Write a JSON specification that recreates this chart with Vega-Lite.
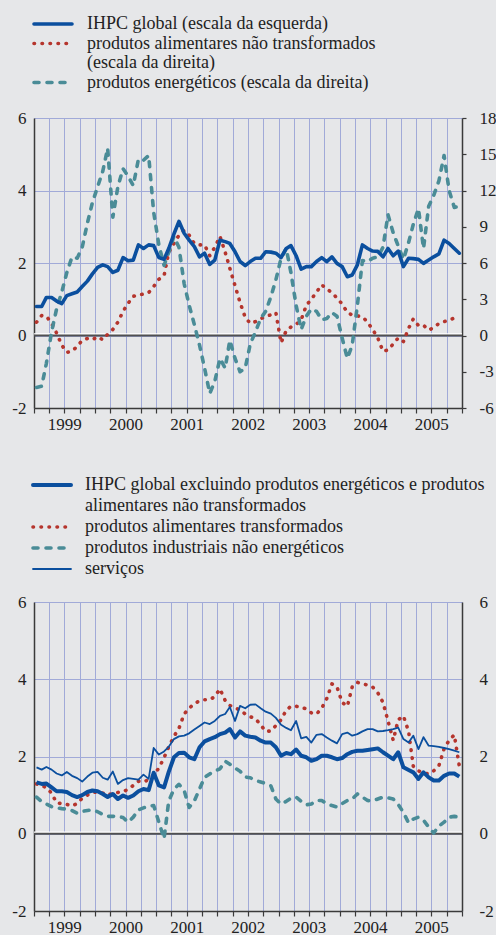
{
"$schema": "https://vega.github.io/schema/vega-lite/v6.json",
"background": "#e6e7e9",
"padding": {"left": 11, "top": 14, "right": 0, "bottom": 0},
"spacing": 44,
"resolve": {"scale": {"color": "independent", "strokeDash": "independent"}, "legend": {"color": "independent", "strokeDash": "independent"}},
"config": {
  "view": {"stroke": null},
  "font": "Liberation Serif",
  "axis": {"labelFont": "Liberation Serif", "labelFontSize": 17, "labelColor": "#222222", "domainColor": "#3a3a3a", "domainWidth": 1.5, "tickColor": "#3a3a3a", "tickWidth": 1.2, "gridColor": "#a1aad8", "gridWidth": 1, "gridOpacity": 1, "title": null},
  "legend": {"labelFont": "Liberation Serif", "labelFontSize": 18, "labelColor": "#222222", "labelLimit": 700, "title": null, "symbolType": "M-2.375,0H2.375", "symbolSize": 256, "symbolStrokeWidth": 3.6, "labelOffset": 24, "rowPadding": 0.5, "orient": "none", "direction": "vertical"}
},
"datasets": {
"top": [
{"t":"1999-01-16","s":"g","v":0.8},{"t":"1999-01-16","s":"a","v":1.1},{"t":"1999-01-16","s":"e","v":-4.3},
{"t":"1999-02-16","s":"g","v":0.8},{"t":"1999-02-16","s":"a","v":1.65},{"t":"1999-02-16","s":"e","v":-4.2},
{"t":"1999-03-16","s":"g","v":1.05},{"t":"1999-03-16","s":"a","v":1.6},{"t":"1999-03-16","s":"e","v":-2.3},
{"t":"1999-04-16","s":"g","v":1.05},{"t":"1999-04-16","s":"a","v":1.0},{"t":"1999-04-16","s":"e","v":0.3},
{"t":"1999-05-16","s":"g","v":0.95},{"t":"1999-05-16","s":"a","v":0.2},{"t":"1999-05-16","s":"e","v":2.2},
{"t":"1999-06-16","s":"g","v":0.88},{"t":"1999-06-16","s":"a","v":-0.8},{"t":"1999-06-16","s":"e","v":3.6},
{"t":"1999-07-16","s":"g","v":1.1},{"t":"1999-07-16","s":"a","v":-1.4},{"t":"1999-07-16","s":"e","v":5.2},
{"t":"1999-08-16","s":"g","v":1.15},{"t":"1999-08-16","s":"a","v":-1.3},{"t":"1999-08-16","s":"e","v":6.5},
{"t":"1999-09-16","s":"g","v":1.2},{"t":"1999-09-16","s":"a","v":-0.9},{"t":"1999-09-16","s":"e","v":6.4},
{"t":"1999-10-16","s":"g","v":1.35},{"t":"1999-10-16","s":"a","v":-0.4},{"t":"1999-10-16","s":"e","v":7.3},
{"t":"1999-11-16","s":"g","v":1.5},{"t":"1999-11-16","s":"a","v":-0.25},{"t":"1999-11-16","s":"e","v":9.3},
{"t":"1999-12-16","s":"g","v":1.7},{"t":"1999-12-16","s":"a","v":-0.35},{"t":"1999-12-16","s":"e","v":11.0},
{"t":"2000-01-16","s":"g","v":1.88},{"t":"2000-01-16","s":"a","v":-0.1},{"t":"2000-01-16","s":"e","v":12.3},
{"t":"2000-02-16","s":"g","v":1.95},{"t":"2000-02-16","s":"a","v":-0.35},{"t":"2000-02-16","s":"e","v":13.6},
{"t":"2000-03-16","s":"g","v":1.9},{"t":"2000-03-16","s":"a","v":0.1},{"t":"2000-03-16","s":"e","v":15.5},
{"t":"2000-04-16","s":"g","v":1.74},{"t":"2000-04-16","s":"a","v":0.5},{"t":"2000-04-16","s":"e","v":9.8},
{"t":"2000-05-16","s":"g","v":1.8},{"t":"2000-05-16","s":"a","v":1.1},{"t":"2000-05-16","s":"e","v":12.3},
{"t":"2000-06-16","s":"g","v":2.15},{"t":"2000-06-16","s":"a","v":2.0},{"t":"2000-06-16","s":"e","v":13.8},
{"t":"2000-07-16","s":"g","v":2.06},{"t":"2000-07-16","s":"a","v":2.66},{"t":"2000-07-16","s":"e","v":13.2},
{"t":"2000-08-16","s":"g","v":2.08},{"t":"2000-08-16","s":"a","v":3.25},{"t":"2000-08-16","s":"e","v":12.4},
{"t":"2000-09-16","s":"g","v":2.5},{"t":"2000-09-16","s":"a","v":3.32},{"t":"2000-09-16","s":"e","v":14.6},
{"t":"2000-10-16","s":"g","v":2.4},{"t":"2000-10-16","s":"a","v":3.45},{"t":"2000-10-16","s":"e","v":14.5},
{"t":"2000-11-16","s":"g","v":2.5},{"t":"2000-11-16","s":"a","v":3.55},{"t":"2000-11-16","s":"e","v":14.9},
{"t":"2000-12-16","s":"g","v":2.48},{"t":"2000-12-16","s":"a","v":4.05},{"t":"2000-12-16","s":"e","v":10.2},
{"t":"2001-01-16","s":"g","v":2.15},{"t":"2001-01-16","s":"a","v":4.65},{"t":"2001-01-16","s":"e","v":7.5},
{"t":"2001-02-16","s":"g","v":2.1},{"t":"2001-02-16","s":"a","v":4.95},{"t":"2001-02-16","s":"e","v":5.8},
{"t":"2001-03-16","s":"g","v":2.4},{"t":"2001-03-16","s":"a","v":6.9},{"t":"2001-03-16","s":"e","v":6.9},
{"t":"2001-04-16","s":"g","v":2.8},{"t":"2001-04-16","s":"a","v":7.6},{"t":"2001-04-16","s":"e","v":8.2},
{"t":"2001-05-16","s":"g","v":3.15},{"t":"2001-05-16","s":"a","v":8.3},{"t":"2001-05-16","s":"e","v":7.3},
{"t":"2001-06-16","s":"g","v":2.82},{"t":"2001-06-16","s":"a","v":8.7},{"t":"2001-06-16","s":"e","v":4.3},
{"t":"2001-07-16","s":"g","v":2.63},{"t":"2001-07-16","s":"a","v":8.3},{"t":"2001-07-16","s":"e","v":2.5},
{"t":"2001-08-16","s":"g","v":2.45},{"t":"2001-08-16","s":"a","v":7.6},{"t":"2001-08-16","s":"e","v":0.9},
{"t":"2001-09-16","s":"g","v":2.17},{"t":"2001-09-16","s":"a","v":7.5},{"t":"2001-09-16","s":"e","v":-0.8},
{"t":"2001-10-16","s":"g","v":2.27},{"t":"2001-10-16","s":"a","v":7.5},{"t":"2001-10-16","s":"e","v":-2.7},
{"t":"2001-11-16","s":"g","v":1.96},{"t":"2001-11-16","s":"a","v":6.6},{"t":"2001-11-16","s":"e","v":-4.8},
{"t":"2001-12-16","s":"g","v":2.08},{"t":"2001-12-16","s":"a","v":7.3},{"t":"2001-12-16","s":"e","v":-3.8},
{"t":"2002-01-16","s":"g","v":2.63},{"t":"2002-01-16","s":"a","v":8.2},{"t":"2002-01-16","s":"e","v":-1.9},
{"t":"2002-02-16","s":"g","v":2.59},{"t":"2002-02-16","s":"a","v":6.9},{"t":"2002-02-16","s":"e","v":-2.7},
{"t":"2002-03-16","s":"g","v":2.54},{"t":"2002-03-16","s":"a","v":5.56},{"t":"2002-03-16","s":"e","v":-0.4},
{"t":"2002-04-16","s":"g","v":2.31},{"t":"2002-04-16","s":"a","v":4.12},{"t":"2002-04-16","s":"e","v":-1.9},
{"t":"2002-05-16","s":"g","v":2.04},{"t":"2002-05-16","s":"a","v":2.74},{"t":"2002-05-16","s":"e","v":-3.0},
{"t":"2002-06-16","s":"g","v":1.93},{"t":"2002-06-16","s":"a","v":1.5},{"t":"2002-06-16","s":"e","v":-2.7},
{"t":"2002-07-16","s":"g","v":2.04},{"t":"2002-07-16","s":"a","v":1.0},{"t":"2002-07-16","s":"e","v":-0.7},
{"t":"2002-08-16","s":"g","v":2.13},{"t":"2002-08-16","s":"a","v":1.15},{"t":"2002-08-16","s":"e","v":0.3},
{"t":"2002-09-16","s":"g","v":2.13},{"t":"2002-09-16","s":"a","v":1.4},{"t":"2002-09-16","s":"e","v":1.4},
{"t":"2002-10-16","s":"g","v":2.31},{"t":"2002-10-16","s":"a","v":1.55},{"t":"2002-10-16","s":"e","v":2.0},
{"t":"2002-11-16","s":"g","v":2.3},{"t":"2002-11-16","s":"a","v":1.72},{"t":"2002-11-16","s":"e","v":3.2},
{"t":"2002-12-16","s":"g","v":2.27},{"t":"2002-12-16","s":"a","v":1.9},{"t":"2002-12-16","s":"e","v":4.6},
{"t":"2003-01-16","s":"g","v":2.15},{"t":"2003-01-16","s":"a","v":-0.6},{"t":"2003-01-16","s":"e","v":6.4},
{"t":"2003-02-16","s":"g","v":2.4},{"t":"2003-02-16","s":"a","v":0.4},{"t":"2003-02-16","s":"e","v":7.2},
{"t":"2003-03-16","s":"g","v":2.48},{"t":"2003-03-16","s":"a","v":0.7},{"t":"2003-03-16","s":"e","v":5.2},
{"t":"2003-04-16","s":"g","v":2.2},{"t":"2003-04-16","s":"a","v":0.92},{"t":"2003-04-16","s":"e","v":2.5},
{"t":"2003-05-16","s":"g","v":1.83},{"t":"2003-05-16","s":"a","v":1.3},{"t":"2003-05-16","s":"e","v":0.5},
{"t":"2003-06-16","s":"g","v":1.9},{"t":"2003-06-16","s":"a","v":2.5},{"t":"2003-06-16","s":"e","v":1.6},
{"t":"2003-07-16","s":"g","v":1.9},{"t":"2003-07-16","s":"a","v":3.0},{"t":"2003-07-16","s":"e","v":2.2},
{"t":"2003-08-16","s":"g","v":2.04},{"t":"2003-08-16","s":"a","v":3.6},{"t":"2003-08-16","s":"e","v":2.0},
{"t":"2003-09-16","s":"g","v":2.15},{"t":"2003-09-16","s":"a","v":4.2},{"t":"2003-09-16","s":"e","v":1.3},
{"t":"2003-10-16","s":"g","v":2.04},{"t":"2003-10-16","s":"a","v":3.85},{"t":"2003-10-16","s":"e","v":1.4},
{"t":"2003-11-16","s":"g","v":2.17},{"t":"2003-11-16","s":"a","v":3.55},{"t":"2003-11-16","s":"e","v":1.9},
{"t":"2003-12-16","s":"g","v":1.99},{"t":"2003-12-16","s":"a","v":3.1},{"t":"2003-12-16","s":"e","v":1.6},
{"t":"2004-01-16","s":"g","v":1.9},{"t":"2004-01-16","s":"a","v":2.6},{"t":"2004-01-16","s":"e","v":-0.2},
{"t":"2004-02-16","s":"g","v":1.62},{"t":"2004-02-16","s":"a","v":1.9},{"t":"2004-02-16","s":"e","v":-1.9},
{"t":"2004-03-16","s":"g","v":1.67},{"t":"2004-03-16","s":"a","v":1.7},{"t":"2004-03-16","s":"e","v":-0.8},
{"t":"2004-04-16","s":"g","v":1.95},{"t":"2004-04-16","s":"a","v":1.62},{"t":"2004-04-16","s":"e","v":2.5},
{"t":"2004-05-16","s":"g","v":2.5},{"t":"2004-05-16","s":"a","v":1.56},{"t":"2004-05-16","s":"e","v":6.2},
{"t":"2004-06-16","s":"g","v":2.4},{"t":"2004-06-16","s":"a","v":1.1},{"t":"2004-06-16","s":"e","v":6.1},
{"t":"2004-07-16","s":"g","v":2.33},{"t":"2004-07-16","s":"a","v":0.5},{"t":"2004-07-16","s":"e","v":6.4},
{"t":"2004-08-16","s":"g","v":2.32},{"t":"2004-08-16","s":"a","v":-0.2},{"t":"2004-08-16","s":"e","v":6.5},
{"t":"2004-09-16","s":"g","v":2.17},{"t":"2004-09-16","s":"a","v":-1.3},{"t":"2004-09-16","s":"e","v":7.3},
{"t":"2004-10-16","s":"g","v":2.4},{"t":"2004-10-16","s":"a","v":-1.2},{"t":"2004-10-16","s":"e","v":10.0},
{"t":"2004-11-16","s":"g","v":2.2},{"t":"2004-11-16","s":"a","v":-0.7},{"t":"2004-11-16","s":"e","v":8.5},
{"t":"2004-12-16","s":"g","v":2.33},{"t":"2004-12-16","s":"a","v":-0.2},{"t":"2004-12-16","s":"e","v":7.4},
{"t":"2005-01-16","s":"g","v":1.9},{"t":"2005-01-16","s":"a","v":-0.5},{"t":"2005-01-16","s":"e","v":6.3},
{"t":"2005-02-16","s":"g","v":2.13},{"t":"2005-02-16","s":"a","v":0.6},{"t":"2005-02-16","s":"e","v":7.7},
{"t":"2005-03-16","s":"g","v":2.12},{"t":"2005-03-16","s":"a","v":1.37},{"t":"2005-03-16","s":"e","v":9.2},
{"t":"2005-04-16","s":"g","v":2.1},{"t":"2005-04-16","s":"a","v":0.81},{"t":"2005-04-16","s":"e","v":10.5},
{"t":"2005-05-16","s":"g","v":1.99},{"t":"2005-05-16","s":"a","v":0.85},{"t":"2005-05-16","s":"e","v":7.2},
{"t":"2005-06-16","s":"g","v":2.08},{"t":"2005-06-16","s":"a","v":0.45},{"t":"2005-06-16","s":"e","v":10.7},
{"t":"2005-07-16","s":"g","v":2.17},{"t":"2005-07-16","s":"a","v":0.65},{"t":"2005-07-16","s":"e","v":11.6},
{"t":"2005-08-16","s":"g","v":2.25},{"t":"2005-08-16","s":"a","v":1.0},{"t":"2005-08-16","s":"e","v":12.8},
{"t":"2005-09-16","s":"g","v":2.63},{"t":"2005-09-16","s":"a","v":1.15},{"t":"2005-09-16","s":"e","v":14.9},
{"t":"2005-10-16","s":"g","v":2.54},{"t":"2005-10-16","s":"a","v":1.25},{"t":"2005-10-16","s":"e","v":12.0},
{"t":"2005-11-16","s":"g","v":2.4},{"t":"2005-11-16","s":"a","v":1.45},{"t":"2005-11-16","s":"e","v":10.6},
{"t":"2005-12-16","s":"g","v":2.27},{"t":"2005-12-16","s":"a","v":1.55},{"t":"2005-12-16","s":"e","v":10.7}
],
"bot": [
{"t":"1999-01-16","s":"c","v":1.33},{"t":"1999-01-16","s":"p","v":1.29},{"t":"1999-01-16","s":"i","v":0.95},{"t":"1999-01-16","s":"s","v":1.72},
{"t":"1999-02-16","s":"c","v":1.29},{"t":"1999-02-16","s":"p","v":1.24},{"t":"1999-02-16","s":"i","v":0.83},{"t":"1999-02-16","s":"s","v":1.66},
{"t":"1999-03-16","s":"c","v":1.30},{"t":"1999-03-16","s":"p","v":1.20},{"t":"1999-03-16","s":"i","v":0.77},{"t":"1999-03-16","s":"s","v":1.73},
{"t":"1999-04-16","s":"c","v":1.20},{"t":"1999-04-16","s":"p","v":1.05},{"t":"1999-04-16","s":"i","v":0.70},{"t":"1999-04-16","s":"s","v":1.66},
{"t":"1999-05-16","s":"c","v":1.10},{"t":"1999-05-16","s":"p","v":0.80},{"t":"1999-05-16","s":"i","v":0.67},{"t":"1999-05-16","s":"s","v":1.56},
{"t":"1999-06-16","s":"c","v":1.10},{"t":"1999-06-16","s":"p","v":0.78},{"t":"1999-06-16","s":"i","v":0.65},{"t":"1999-06-16","s":"s","v":1.51},
{"t":"1999-07-16","s":"c","v":1.08},{"t":"1999-07-16","s":"p","v":0.76},{"t":"1999-07-16","s":"i","v":0.64},{"t":"1999-07-16","s":"s","v":1.60},
{"t":"1999-08-16","s":"c","v":1.00},{"t":"1999-08-16","s":"p","v":0.72},{"t":"1999-08-16","s":"i","v":0.60},{"t":"1999-08-16","s":"s","v":1.50},
{"t":"1999-09-16","s":"c","v":0.95},{"t":"1999-09-16","s":"p","v":0.78},{"t":"1999-09-16","s":"i","v":0.53},{"t":"1999-09-16","s":"s","v":1.44},
{"t":"1999-10-16","s":"c","v":1.00},{"t":"1999-10-16","s":"p","v":0.92},{"t":"1999-10-16","s":"i","v":0.58},{"t":"1999-10-16","s":"s","v":1.35},
{"t":"1999-11-16","s":"c","v":1.08},{"t":"1999-11-16","s":"p","v":1.00},{"t":"1999-11-16","s":"i","v":0.60},{"t":"1999-11-16","s":"s","v":1.48},
{"t":"1999-12-16","s":"c","v":1.12},{"t":"1999-12-16","s":"p","v":1.06},{"t":"1999-12-16","s":"i","v":0.62},{"t":"1999-12-16","s":"s","v":1.58},
{"t":"2000-01-16","s":"c","v":1.10},{"t":"2000-01-16","s":"p","v":1.09},{"t":"2000-01-16","s":"i","v":0.57},{"t":"2000-01-16","s":"s","v":1.60},
{"t":"2000-02-16","s":"c","v":1.03},{"t":"2000-02-16","s":"p","v":1.05},{"t":"2000-02-16","s":"i","v":0.50},{"t":"2000-02-16","s":"s","v":1.45},
{"t":"2000-03-16","s":"c","v":0.95},{"t":"2000-03-16","s":"p","v":1.00},{"t":"2000-03-16","s":"i","v":0.45},{"t":"2000-03-16","s":"s","v":1.40},
{"t":"2000-04-16","s":"c","v":1.03},{"t":"2000-04-16","s":"p","v":1.05},{"t":"2000-04-16","s":"i","v":0.45},{"t":"2000-04-16","s":"s","v":1.61},
{"t":"2000-05-16","s":"c","v":0.90},{"t":"2000-05-16","s":"p","v":1.07},{"t":"2000-05-16","s":"i","v":0.45},{"t":"2000-05-16","s":"s","v":1.29},
{"t":"2000-06-16","s":"c","v":0.99},{"t":"2000-06-16","s":"p","v":1.09},{"t":"2000-06-16","s":"i","v":0.42},{"t":"2000-06-16","s":"s","v":1.39},
{"t":"2000-07-16","s":"c","v":0.93},{"t":"2000-07-16","s":"p","v":1.15},{"t":"2000-07-16","s":"i","v":0.30},{"t":"2000-07-16","s":"s","v":1.44},
{"t":"2000-08-16","s":"c","v":0.99},{"t":"2000-08-16","s":"p","v":1.25},{"t":"2000-08-16","s":"i","v":0.43},{"t":"2000-08-16","s":"s","v":1.42},
{"t":"2000-09-16","s":"c","v":1.10},{"t":"2000-09-16","s":"p","v":1.36},{"t":"2000-09-16","s":"i","v":0.62},{"t":"2000-09-16","s":"s","v":1.40},
{"t":"2000-10-16","s":"c","v":1.16},{"t":"2000-10-16","s":"p","v":1.34},{"t":"2000-10-16","s":"i","v":0.67},{"t":"2000-10-16","s":"s","v":1.53},
{"t":"2000-11-16","s":"c","v":1.13},{"t":"2000-11-16","s":"p","v":1.40},{"t":"2000-11-16","s":"i","v":0.71},{"t":"2000-11-16","s":"s","v":1.42},
{"t":"2000-12-16","s":"c","v":1.58},{"t":"2000-12-16","s":"p","v":1.52},{"t":"2000-12-16","s":"i","v":0.73},{"t":"2000-12-16","s":"s","v":2.22},
{"t":"2001-01-16","s":"c","v":1.25},{"t":"2001-01-16","s":"p","v":1.70},{"t":"2001-01-16","s":"i","v":0.30},{"t":"2001-01-16","s":"s","v":2.05},
{"t":"2001-02-16","s":"c","v":1.20},{"t":"2001-02-16","s":"p","v":1.97},{"t":"2001-02-16","s":"i","v":-0.13},{"t":"2001-02-16","s":"s","v":2.13},
{"t":"2001-03-16","s":"c","v":1.60},{"t":"2001-03-16","s":"p","v":2.25},{"t":"2001-03-16","s":"i","v":0.85},{"t":"2001-03-16","s":"s","v":2.25},
{"t":"2001-04-16","s":"c","v":1.98},{"t":"2001-04-16","s":"p","v":2.52},{"t":"2001-04-16","s":"i","v":1.15},{"t":"2001-04-16","s":"s","v":2.45},
{"t":"2001-05-16","s":"c","v":2.09},{"t":"2001-05-16","s":"p","v":2.73},{"t":"2001-05-16","s":"i","v":1.28},{"t":"2001-05-16","s":"s","v":2.52},
{"t":"2001-06-16","s":"c","v":2.10},{"t":"2001-06-16","s":"p","v":3.10},{"t":"2001-06-16","s":"i","v":1.12},{"t":"2001-06-16","s":"s","v":2.54},
{"t":"2001-07-16","s":"c","v":1.98},{"t":"2001-07-16","s":"p","v":3.25},{"t":"2001-07-16","s":"i","v":0.68},{"t":"2001-07-16","s":"s","v":2.60},
{"t":"2001-08-16","s":"c","v":1.93},{"t":"2001-08-16","s":"p","v":3.37},{"t":"2001-08-16","s":"i","v":0.85},{"t":"2001-08-16","s":"s","v":2.70},
{"t":"2001-09-16","s":"c","v":2.24},{"t":"2001-09-16","s":"p","v":3.44},{"t":"2001-09-16","s":"i","v":1.16},{"t":"2001-09-16","s":"s","v":2.79},
{"t":"2001-10-16","s":"c","v":2.39},{"t":"2001-10-16","s":"p","v":3.47},{"t":"2001-10-16","s":"i","v":1.46},{"t":"2001-10-16","s":"s","v":2.88},
{"t":"2001-11-16","s":"c","v":2.45},{"t":"2001-11-16","s":"p","v":3.47},{"t":"2001-11-16","s":"i","v":1.55},{"t":"2001-11-16","s":"s","v":2.84},
{"t":"2001-12-16","s":"c","v":2.50},{"t":"2001-12-16","s":"p","v":3.55},{"t":"2001-12-16","s":"i","v":1.62},{"t":"2001-12-16","s":"s","v":2.92},
{"t":"2002-01-16","s":"c","v":2.58},{"t":"2002-01-16","s":"p","v":3.75},{"t":"2002-01-16","s":"i","v":1.68},{"t":"2002-01-16","s":"s","v":3.05},
{"t":"2002-02-16","s":"c","v":2.62},{"t":"2002-02-16","s":"p","v":3.45},{"t":"2002-02-16","s":"i","v":1.88},{"t":"2002-02-16","s":"s","v":3.10},
{"t":"2002-03-16","s":"c","v":2.71},{"t":"2002-03-16","s":"p","v":3.32},{"t":"2002-03-16","s":"i","v":1.80},{"t":"2002-03-16","s":"s","v":3.28},
{"t":"2002-04-16","s":"c","v":2.49},{"t":"2002-04-16","s":"p","v":3.26},{"t":"2002-04-16","s":"i","v":1.70},{"t":"2002-04-16","s":"s","v":2.92},
{"t":"2002-05-16","s":"c","v":2.65},{"t":"2002-05-16","s":"p","v":3.20},{"t":"2002-05-16","s":"i","v":1.62},{"t":"2002-05-16","s":"s","v":3.31},
{"t":"2002-06-16","s":"c","v":2.54},{"t":"2002-06-16","s":"p","v":3.10},{"t":"2002-06-16","s":"i","v":1.47},{"t":"2002-06-16","s":"s","v":3.25},
{"t":"2002-07-16","s":"c","v":2.51},{"t":"2002-07-16","s":"p","v":3.03},{"t":"2002-07-16","s":"i","v":1.45},{"t":"2002-07-16","s":"s","v":3.34},
{"t":"2002-08-16","s":"c","v":2.49},{"t":"2002-08-16","s":"p","v":2.98},{"t":"2002-08-16","s":"i","v":1.38},{"t":"2002-08-16","s":"s","v":3.35},
{"t":"2002-09-16","s":"c","v":2.41},{"t":"2002-09-16","s":"p","v":2.82},{"t":"2002-09-16","s":"i","v":1.34},{"t":"2002-09-16","s":"s","v":3.25},
{"t":"2002-10-16","s":"c","v":2.36},{"t":"2002-10-16","s":"p","v":2.65},{"t":"2002-10-16","s":"i","v":1.30},{"t":"2002-10-16","s":"s","v":3.16},
{"t":"2002-11-16","s":"c","v":2.36},{"t":"2002-11-16","s":"p","v":2.66},{"t":"2002-11-16","s":"i","v":1.24},{"t":"2002-11-16","s":"s","v":3.11},
{"t":"2002-12-16","s":"c","v":2.24},{"t":"2002-12-16","s":"p","v":2.80},{"t":"2002-12-16","s":"i","v":0.90},{"t":"2002-12-16","s":"s","v":3.00},
{"t":"2003-01-16","s":"c","v":2.02},{"t":"2003-01-16","s":"p","v":2.95},{"t":"2003-01-16","s":"i","v":0.77},{"t":"2003-01-16","s":"s","v":2.82},
{"t":"2003-02-16","s":"c","v":2.09},{"t":"2003-02-16","s":"p","v":3.20},{"t":"2003-02-16","s":"i","v":0.84},{"t":"2003-02-16","s":"s","v":2.74},
{"t":"2003-03-16","s":"c","v":2.06},{"t":"2003-03-16","s":"p","v":3.30},{"t":"2003-03-16","s":"i","v":0.92},{"t":"2003-03-16","s":"s","v":2.68},
{"t":"2003-04-16","s":"c","v":2.18},{"t":"2003-04-16","s":"p","v":3.30},{"t":"2003-04-16","s":"i","v":0.95},{"t":"2003-04-16","s":"s","v":2.92},
{"t":"2003-05-16","s":"c","v":2.02},{"t":"2003-05-16","s":"p","v":3.28},{"t":"2003-05-16","s":"i","v":0.84},{"t":"2003-05-16","s":"s","v":2.47},
{"t":"2003-06-16","s":"c","v":1.98},{"t":"2003-06-16","s":"p","v":3.23},{"t":"2003-06-16","s":"i","v":0.75},{"t":"2003-06-16","s":"s","v":2.51},
{"t":"2003-07-16","s":"c","v":1.89},{"t":"2003-07-16","s":"p","v":3.13},{"t":"2003-07-16","s":"i","v":0.77},{"t":"2003-07-16","s":"s","v":2.36},
{"t":"2003-08-16","s":"c","v":1.93},{"t":"2003-08-16","s":"p","v":3.10},{"t":"2003-08-16","s":"i","v":0.86},{"t":"2003-08-16","s":"s","v":2.56},
{"t":"2003-09-16","s":"c","v":2.02},{"t":"2003-09-16","s":"p","v":3.25},{"t":"2003-09-16","s":"i","v":0.86},{"t":"2003-09-16","s":"s","v":2.58},
{"t":"2003-10-16","s":"c","v":2.02},{"t":"2003-10-16","s":"p","v":3.50},{"t":"2003-10-16","s":"i","v":0.78},{"t":"2003-10-16","s":"s","v":2.49},
{"t":"2003-11-16","s":"c","v":1.98},{"t":"2003-11-16","s":"p","v":3.88},{"t":"2003-11-16","s":"i","v":0.73},{"t":"2003-11-16","s":"s","v":2.41},
{"t":"2003-12-16","s":"c","v":1.93},{"t":"2003-12-16","s":"p","v":3.80},{"t":"2003-12-16","s":"i","v":0.69},{"t":"2003-12-16","s":"s","v":2.34},
{"t":"2004-01-16","s":"c","v":1.96},{"t":"2004-01-16","s":"p","v":3.40},{"t":"2004-01-16","s":"i","v":0.78},{"t":"2004-01-16","s":"s","v":2.58},
{"t":"2004-02-16","s":"c","v":2.06},{"t":"2004-02-16","s":"p","v":3.30},{"t":"2004-02-16","s":"i","v":0.86},{"t":"2004-02-16","s":"s","v":2.62},
{"t":"2004-03-16","s":"c","v":2.12},{"t":"2004-03-16","s":"p","v":3.80},{"t":"2004-03-16","s":"i","v":0.90},{"t":"2004-03-16","s":"s","v":2.54},
{"t":"2004-04-16","s":"c","v":2.15},{"t":"2004-04-16","s":"p","v":3.92},{"t":"2004-04-16","s":"i","v":1.03},{"t":"2004-04-16","s":"s","v":2.58},
{"t":"2004-05-16","s":"c","v":2.15},{"t":"2004-05-16","s":"p","v":3.88},{"t":"2004-05-16","s":"i","v":0.95},{"t":"2004-05-16","s":"s","v":2.65},
{"t":"2004-06-16","s":"c","v":2.17},{"t":"2004-06-16","s":"p","v":3.85},{"t":"2004-06-16","s":"i","v":0.86},{"t":"2004-06-16","s":"s","v":2.71},
{"t":"2004-07-16","s":"c","v":2.19},{"t":"2004-07-16","s":"p","v":3.80},{"t":"2004-07-16","s":"i","v":0.85},{"t":"2004-07-16","s":"s","v":2.71},
{"t":"2004-08-16","s":"c","v":2.21},{"t":"2004-08-16","s":"p","v":3.65},{"t":"2004-08-16","s":"i","v":0.90},{"t":"2004-08-16","s":"s","v":2.65},
{"t":"2004-09-16","s":"c","v":2.11},{"t":"2004-09-16","s":"p","v":3.40},{"t":"2004-09-16","s":"i","v":0.95},{"t":"2004-09-16","s":"s","v":2.66},
{"t":"2004-10-16","s":"c","v":2.02},{"t":"2004-10-16","s":"p","v":2.92},{"t":"2004-10-16","s":"i","v":0.93},{"t":"2004-10-16","s":"s","v":2.68},
{"t":"2004-11-16","s":"c","v":1.93},{"t":"2004-11-16","s":"p","v":2.42},{"t":"2004-11-16","s":"i","v":0.90},{"t":"2004-11-16","s":"s","v":2.71},
{"t":"2004-12-16","s":"c","v":2.11},{"t":"2004-12-16","s":"p","v":2.95},{"t":"2004-12-16","s":"i","v":0.76},{"t":"2004-12-16","s":"s","v":2.75},
{"t":"2005-01-16","s":"c","v":1.72},{"t":"2005-01-16","s":"p","v":3.05},{"t":"2005-01-16","s":"i","v":0.55},{"t":"2005-01-16","s":"s","v":2.45},
{"t":"2005-02-16","s":"c","v":1.65},{"t":"2005-02-16","s":"p","v":2.65},{"t":"2005-02-16","s":"i","v":0.28},{"t":"2005-02-16","s":"s","v":2.36},
{"t":"2005-03-16","s":"c","v":1.59},{"t":"2005-03-16","s":"p","v":1.75},{"t":"2005-03-16","s":"i","v":0.38},{"t":"2005-03-16","s":"s","v":2.54},
{"t":"2005-04-16","s":"c","v":1.42},{"t":"2005-04-16","s":"p","v":1.63},{"t":"2005-04-16","s":"i","v":0.43},{"t":"2005-04-16","s":"s","v":2.19},
{"t":"2005-05-16","s":"c","v":1.59},{"t":"2005-05-16","s":"p","v":1.57},{"t":"2005-05-16","s":"i","v":0.35},{"t":"2005-05-16","s":"s","v":2.50},
{"t":"2005-06-16","s":"c","v":1.46},{"t":"2005-06-16","s":"p","v":1.55},{"t":"2005-06-16","s":"i","v":0.17},{"t":"2005-06-16","s":"s","v":2.28},
{"t":"2005-07-16","s":"c","v":1.38},{"t":"2005-07-16","s":"p","v":1.63},{"t":"2005-07-16","s":"i","v":0.02},{"t":"2005-07-16","s":"s","v":2.27},
{"t":"2005-08-16","s":"c","v":1.38},{"t":"2005-08-16","s":"p","v":1.76},{"t":"2005-08-16","s":"i","v":0.20},{"t":"2005-08-16","s":"s","v":2.25},
{"t":"2005-09-16","s":"c","v":1.50},{"t":"2005-09-16","s":"p","v":2.20},{"t":"2005-09-16","s":"i","v":0.30},{"t":"2005-09-16","s":"s","v":2.22},
{"t":"2005-10-16","s":"c","v":1.56},{"t":"2005-10-16","s":"p","v":2.42},{"t":"2005-10-16","s":"i","v":0.43},{"t":"2005-10-16","s":"s","v":2.19},
{"t":"2005-11-16","s":"c","v":1.56},{"t":"2005-11-16","s":"p","v":2.56},{"t":"2005-11-16","s":"i","v":0.45},{"t":"2005-11-16","s":"s","v":2.15},
{"t":"2005-12-16","s":"c","v":1.48},{"t":"2005-12-16","s":"p","v":1.75},{"t":"2005-12-16","s":"i","v":0.43},{"t":"2005-12-16","s":"s","v":2.11}
]
},
"vconcat": [
{
  "width": 428, "height": 290,
  "data": {"name": "top"},
  "layer": [
    {"data": {"values": [{}]}, "mark": {"type": "rule", "color": "#ffffff", "strokeWidth": 1.5, "yOffset": -1.5}, "encoding": {"y": {"datum": 0, "type": "quantitative", "scale": {"domain": [-2, 6]}, "axis": null}}},
    {"data": {"values": [{}]}, "mark": {"type": "rule", "color": "#505050", "strokeWidth": 2}, "encoding": {"y": {"datum": 0, "type": "quantitative", "scale": {"domain": [-2, 6]}, "axis": null}}},
    {
      "transform": [{"filter": "datum.s != 'g'"}],
      "mark": {"type": "line", "strokeCap": "round", "strokeJoin": "round", "strokeWidth": 3.6},
      "encoding": {
        "x": {"field": "t", "type": "temporal", "scale": {"type": "utc", "domain": [{"year": 1999, "month": 1, "date": 1, "utc": true}, {"year": 2006, "month": 1, "date": 1, "utc": true}]}, "axis": {"tickCount": {"interval": "month", "step": 3}, "grid": true, "labelExpr": "utcmonth(datum.value) == 6 ? '' + utcyear(datum.value) : ''", "tickSize": 5, "labelPadding": 3, "labelFlush": false, "labelOverlap": false}},
        "y": {"field": "v", "type": "quantitative", "scale": {"domain": [-6, 18]}, "axis": {"orient": "right", "values": [-6, -3, 0, 3, 6, 9, 12, 15, 18], "grid": false, "tickSize": 4, "labelPadding": 13, "labelExpr": "'' + datum.value", "encode": {"labels": {"update": {"dx": {"signal": "datum.value < 0 ? -6 : 0"}}}}}},
        "color": {"field": "s", "type": "nominal", "scale": {"domain": ["g", "a", "a2", "e"], "range": ["#0b4f9e", "#b5352d", "transparent", "#4a8c97"]}, "legend": {"legendX": 9, "legendY": -104, "labelExpr": "datum.value == 'g' ? 'IHPC global (escala da esquerda)' : datum.value == 'a' ? 'produtos alimentares não transformados' : datum.value == 'a2' ? '(escala da direita)' : 'produtos energéticos (escala da direita)'", "encode": {"symbols": {"update": {"strokeCap": {"value": "round"}, "strokeWidth": {"value": 3.6}}}}}},
        "strokeDash": {"field": "s", "type": "nominal", "scale": {"domain": ["g", "a", "a2", "e"], "range": [[1, 0], [0.5, 7.5], [1, 0], [5, 8]]}, "legend": {"legendX": 9, "legendY": -104}}
      }
    },
    {
      "transform": [{"filter": "datum.s == 'g'"}],
      "mark": {"type": "line", "strokeCap": "round", "strokeJoin": "round", "strokeWidth": 3.6, "color": "#0b4f9e"},
      "encoding": {
        "x": {"field": "t", "type": "temporal", "scale": {"type": "utc", "domain": [{"year": 1999, "month": 1, "date": 1, "utc": true}, {"year": 2006, "month": 1, "date": 1, "utc": true}]}, "axis": {"tickCount": {"interval": "month", "step": 3}, "grid": true, "labelExpr": "utcmonth(datum.value) == 6 ? '' + utcyear(datum.value) : ''", "tickSize": 5, "labelPadding": 3, "labelFlush": false, "labelOverlap": false}},
        "y": {"field": "v", "type": "quantitative", "scale": {"domain": [-2, 6]}, "axis": {"orient": "left", "values": [-2, 0, 2, 4, 6], "grid": true, "ticks": false, "labelPadding": 8, "labelExpr": "'' + datum.value"}}
      }
    }
  ],
  "resolve": {"scale": {"y": "independent"}}
},
{
  "width": 428, "height": 309,
  "data": {"name": "bot"},
  "layer": [
    {"data": {"values": [{}]}, "mark": {"type": "rule", "color": "#ffffff", "strokeWidth": 1.5, "yOffset": -1.5}, "encoding": {"y": {"datum": 0, "type": "quantitative", "scale": {"domain": [-2, 6]}, "axis": null}}},
    {"data": {"values": [{}]}, "mark": {"type": "rule", "color": "#505050", "strokeWidth": 2}, "encoding": {"y": {"datum": 0, "type": "quantitative", "scale": {"domain": [-2, 6]}, "axis": null}}},
    {
      "transform": [{"filter": "datum.s == 'p' || datum.s == 'i'"}],
      "mark": {"type": "line", "strokeCap": "round", "strokeJoin": "round", "strokeWidth": 3.6},
      "encoding": {
        "x": {"field": "t", "type": "temporal", "scale": {"type": "utc", "domain": [{"year": 1999, "month": 1, "date": 1, "utc": true}, {"year": 2006, "month": 1, "date": 1, "utc": true}]}, "axis": {"tickCount": {"interval": "month", "step": 3}, "grid": true, "labelExpr": "utcmonth(datum.value) == 6 ? '' + utcyear(datum.value) : ''", "tickSize": 5, "labelPadding": 3, "labelFlush": false, "labelOverlap": false}},
        "y": {"field": "v", "type": "quantitative", "scale": {"domain": [-2, 6]}, "axis": {"orient": "right", "values": [-2, 0, 2, 4, 6], "grid": false, "ticks": false, "labelPadding": 17, "labelExpr": "'' + datum.value", "encode": {"labels": {"update": {"dx": {"signal": "datum.value < 0 ? -6 : 0"}}}}}},
        "color": {"field": "s", "type": "nominal", "scale": {"domain": ["c", "c2", "p", "i", "s"], "range": ["#0b4f9e", "transparent", "#b5352d", "#4a8c97", "#0b4f9e"]}, "legend": {"legendX": 9, "legendY": -126, "rowPadding": 3, "labelExpr": "datum.value == 'c' ? 'IHPC global excluindo produtos energéticos e produtos' : datum.value == 'c2' ? 'alimentares não transformados' : datum.value == 'p' ? 'produtos alimentares transformados' : datum.value == 'i' ? 'produtos industriais não energéticos' : 'serviços'", "encode": {"symbols": {"update": {"strokeCap": {"value": "round"}, "strokeWidth": {"signal": "datum.value == 's' ? 1.8 : datum.value == 'c' ? 4 : 3.6"}}}}}},
        "strokeDash": {"field": "s", "type": "nominal", "scale": {"domain": ["c", "c2", "p", "i", "s"], "range": [[1, 0], [1, 0], [0.5, 7.5], [5, 8], [1, 0]]}, "legend": {"legendX": 9, "legendY": -126, "rowPadding": 3}}
      }
    },
    {
      "transform": [{"filter": "datum.s == 's'"}],
      "mark": {"type": "line", "strokeJoin": "round", "strokeWidth": 1.8, "color": "#0b4f9e"},
      "encoding": {
        "x": {"field": "t", "type": "temporal", "scale": {"type": "utc", "domain": [{"year": 1999, "month": 1, "date": 1, "utc": true}, {"year": 2006, "month": 1, "date": 1, "utc": true}]}, "axis": {"tickCount": {"interval": "month", "step": 3}, "grid": true, "labelExpr": "utcmonth(datum.value) == 6 ? '' + utcyear(datum.value) : ''", "tickSize": 5, "labelPadding": 3, "labelFlush": false, "labelOverlap": false}},
        "y": {"field": "v", "type": "quantitative", "scale": {"domain": [-2, 6]}, "axis": null}
      }
    },
    {
      "transform": [{"filter": "datum.s == 'c'"}],
      "mark": {"type": "line", "strokeJoin": "round", "strokeWidth": 4, "color": "#0b4f9e"},
      "encoding": {
        "x": {"field": "t", "type": "temporal", "scale": {"type": "utc", "domain": [{"year": 1999, "month": 1, "date": 1, "utc": true}, {"year": 2006, "month": 1, "date": 1, "utc": true}]}, "axis": {"tickCount": {"interval": "month", "step": 3}, "grid": true, "labelExpr": "utcmonth(datum.value) == 6 ? '' + utcyear(datum.value) : ''", "tickSize": 5, "labelPadding": 3, "labelFlush": false, "labelOverlap": false}},
        "y": {"field": "v", "type": "quantitative", "scale": {"domain": [-2, 6]}, "axis": {"orient": "left", "values": [-2, 0, 2, 4, 6], "grid": true, "ticks": false, "labelPadding": 8, "labelExpr": "'' + datum.value"}}
      }
    }
  ],
  "resolve": {"scale": {"y": "independent"}}
}
]
}
